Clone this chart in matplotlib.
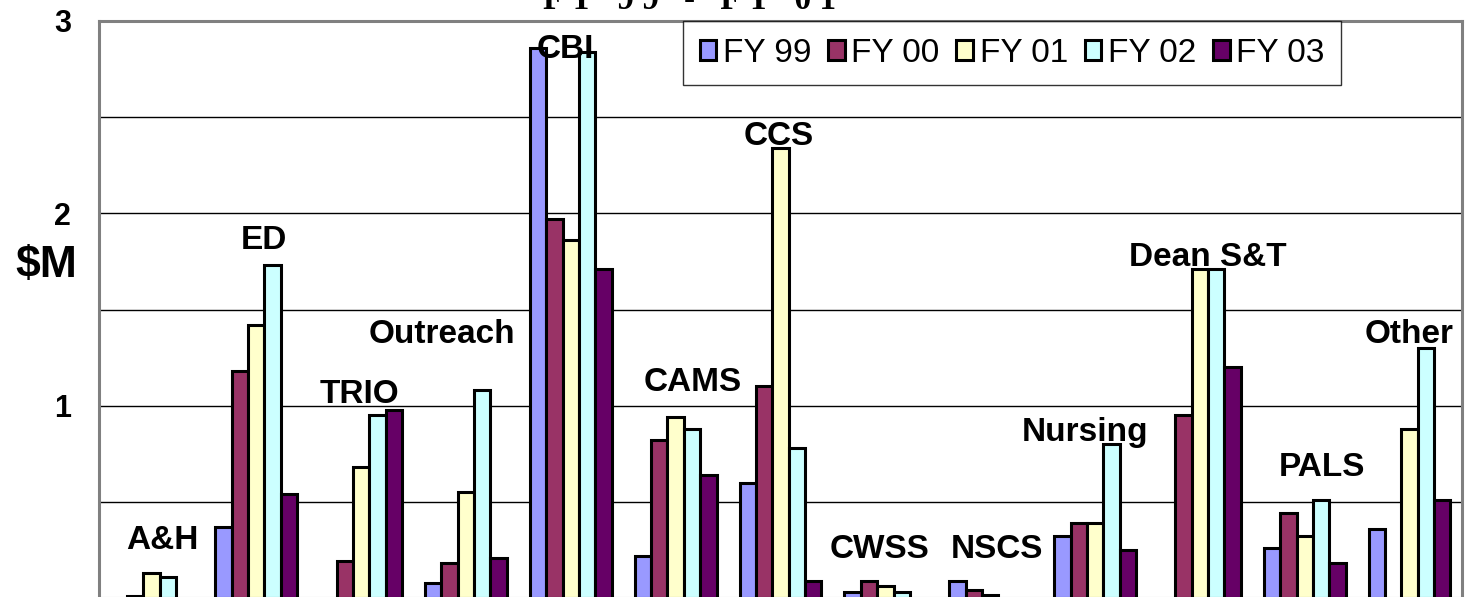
import matplotlib
matplotlib.use("Agg")
import matplotlib.pyplot as plt
import numpy as np

# departments and yearly funding ($M)
depts = ['A&H', 'ED', 'TRIO', 'Outreach', 'CBI', 'CAMS', 'CCS', 'CWSS',
         'NSCS', 'Nursing', 'Dean S&T', 'PALS', 'Other']
years = ['FY 99', 'FY 00', 'FY 01', 'FY 02', 'FY 03']

fy99 = [0.00, 0.37, 0.00, 0.08, 2.86, 0.22, 0.60, 0.03, 0.09, 0.32, 0.00, 0.26, 0.36]
fy00 = [0.01, 1.18, 0.19, 0.18, 1.97, 0.82, 1.10, 0.09, 0.04, 0.39, 0.95, 0.44, 0.00]
fy01 = [0.13, 1.42, 0.68, 0.55, 1.86, 0.94, 2.34, 0.06, 0.015, 0.39, 1.71, 0.32, 0.88]
fy02 = [0.11, 1.73, 0.95, 1.08, 2.84, 0.88, 0.78, 0.03, 0.00, 0.80, 1.71, 0.51, 1.30]
fy03 = [0.00, 0.54, 0.98, 0.21, 1.71, 0.64, 0.09, 0.00, 0.00, 0.25, 1.20, 0.18, 0.51]
series = [fy99, fy00, fy01, fy02, fy03]

colors = ['#9999FF', '#993366', '#FFFFCC', '#CCFFFF', '#660066']

# where the department names sit (data coords)
label_x = [0.10, 1.07, 1.98, 2.77, 3.95, 5.16, 5.98, 6.94, 8.06, 8.90, 10.08, 11.16, 12.0]
label_y = [0.30, 1.86, 1.06, 1.37, 2.85, 1.12, 2.40, 0.25, 0.25, 0.86, 1.77, 0.68, 1.37]

plt.rcParams['font.family'] = ['Liberation Sans', 'DejaVu Sans']

fig = plt.figure(figsize=(14.75, 5.97), dpi=100)
ax = fig.add_axes([99 / 1475, -1 / 597, 1363 / 1475, 577 / 597])

x = np.arange(len(depts))
w = 0.156
for i, vals in enumerate(series):
    v = np.array(vals, dtype=float)
    v[v == 0] = np.nan  # no empty outline for zero years
    ax.bar(x + (i - 2) * w, v, w, color=colors[i], edgecolor='black',
           linewidth=2.2, label=years[i], zorder=3)

for name, lx, ly in zip(depts, label_x, label_y):
    ax.text(lx, ly, name, ha='center', va='center', fontsize=24,
            fontweight='bold', zorder=5)

ax.set_xlim(-0.5, len(depts) - 0.5)
ax.set_ylim(0, 3)
ax.set_xticks([])
ax.set_yticks([1, 2, 3])
ax.set_yticklabels(['1', '2', '3'], fontsize=22, fontweight='bold')
ax.set_yticks(np.arange(0.5, 3, 0.5), minor=True)
ax.tick_params(axis='y', which='both', length=0, pad=20)
ax.yaxis.grid(True, which='both', color='black', linewidth=1.0, zorder=0)
ax.set_axisbelow(True)

for s in ax.spines.values():
    s.set_color('#808080')
    s.set_linewidth(2.2)

fig.text(46 / 1475, 1 - 265 / 597, '$M', ha='center', va='center',
         fontsize=32, fontweight='bold')

# title, mostly cropped off the top
fig.text(690 / 1475, 1 - 9 / 597, 'F Y   9 9   -   F Y   0 1', ha='center',
         va='baseline', fontsize=24, fontweight='bold', family='Liberation Serif')

leg = ax.legend(loc='upper left', bbox_to_anchor=((683 - 99) / 1363, 1.0),
                ncol=5, fontsize=24, frameon=True, fancybox=False,
                borderaxespad=0, handlelength=0.5, handleheight=0.55,
                handletextpad=0.2, columnspacing=0.5, borderpad=0.5)
leg.get_frame().set_edgecolor('black')
leg.get_frame().set_linewidth(1.0)
for h in leg.legend_handles:
    h.set_linewidth(2.2)

fig.savefig('out.png', dpi=100)
